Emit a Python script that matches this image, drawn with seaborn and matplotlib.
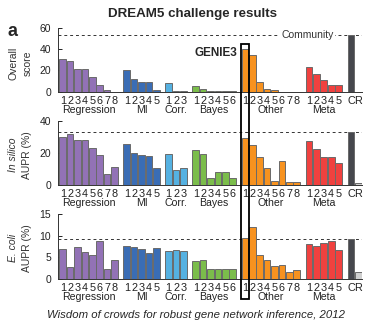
import numpy as np
import pandas as pd
import matplotlib
matplotlib.use('Agg')
import matplotlib.pyplot as plt
from matplotlib.patches import Rectangle
from matplotlib.transforms import blended_transform_factory
import seaborn as sns

# method groups and number of methods in each
groups = ['Regression', 'MI', 'Corr.', 'Bayes', 'Other', 'Meta']
group_sizes = [8, 5, 3, 6, 8, 5]
cr_labels = ['C', 'R']

# values (groups in order, then C and R)
overall = [31, 29, 21.5, 21, 13.5, 6, 1.5, 0,
           20.5, 12, 9.5, 9, 1.5,
           8, 1, 1,
           5, 2.5, 0.3, 0.3, 0.3, 0.3,
           40.5, 34, 9, 2.5, 2, 0, 0, 0,
           23, 17, 11, 6.5, 6.5,
           53, 0]
in_silico = [30, 31.5, 28.2, 28.2, 23, 18.4, 6.8, 11,
             25.7, 20, 18.6, 18.2, 10.6,
             19, 9.3, 10.4,
             21.7, 19.3, 4.1, 7.9, 7.9, 4.1,
             29, 24.6, 17.6, 10.8, 2.7, 14.7, 1.9, 2.1,
             27.5, 22.4, 17.6, 17.4, 13.7,
             32.7, 1.5]
e_coli = [7.0, 2.7, 7.3, 6.2, 5.5, 8.8, 2.3, 4.45,
          7.65, 7.4, 7.0, 5.9, 7.1,
          6.5, 6.6, 6.5,
          4.2, 4.45, 2.2, 2.2, 2.2, 2.2,
          9.45, 12.1, 5.5, 4.45, 3.0, 3.1, 1.6, 1.95,
          8.0, 7.65, 8.35, 8.7, 6.6,
          9.2, 1.6]

colors = {'Regression': '#9272b6', 'MI': '#3a6db5', 'Corr.': '#55b1e1',
          'Bayes': '#7bbd4b', 'Other': '#f7921f', 'Meta': '#f0413f',
          'C': '#46474d', 'R': '#d0d0d0'}

sns.set_style('ticks')
plt.rcParams['font.family'] = ['Liberation Sans', 'DejaVu Sans']

# x layout: one unit per bar, small gap between groups
gap = 0.67
pos, keys, ticklabels, centers = [], [], [], []
x = 0.0
for g, n in zip(groups, group_sizes):
    xs = [x + i for i in range(n)]
    pos += xs
    keys += [g] * n
    ticklabels += [str(i + 1) for i in range(n)]
    centers.append(np.mean(xs))
    x = xs[-1] + 1 + gap
for c in cr_labels:
    pos.append(x)
    keys.append(c)
    ticklabels.append(c)
    x += 1

W, H = 365, 321
fig = plt.figure(figsize=(W / 100, H / 100), dpi=100)

panels = [
    (overall, 60, [0, 20, 40, 60], 27.7, 91.7, ('Overall', 'score'), 'normal', 63),
    (in_silico, 40, [0, 20, 40], 120.7, 185, ('In silico', 'AUPR (%)'), 'italic', 155),
    (e_coli, 15, [0, 5, 10, 15], 214.3, 278.7, ('E. coli', 'AUPR (%)'), 'italic', 248),
]

axes = []
for vals, ymax, yticks, top, bot, ylab, style, ylab_y in panels:
    ax = fig.add_axes([58 / W, 1 - bot / H, 304 / W, (bot - top) / H])
    df = pd.DataFrame({'pos': pos, 'value': vals, 'key': keys})
    sns.barplot(data=df, x='pos', y='value', hue='key', palette=colors, saturation=1,
                native_scale=True, dodge=False, width=0.9, errorbar=None,
                legend=False, edgecolor='#6a6a6a', linewidth=0.7, ax=ax, zorder=2)
    # community performance line
    ax.axhline(vals[-2], ls=(0, (3, 3)), color='#333333', lw=0.7, zorder=1)
    ax.set_xlim(pos[0] - 0.64, pos[-1] + 0.5)
    ax.set_ylim(0, ymax)
    ax.set_yticks(yticks)
    ax.set_xticks(pos, labels=ticklabels)
    ax.set_xlabel('')
    ax.set_ylabel('')
    ax.tick_params(axis='y', direction='in', length=3, width=0.7, labelsize=7.5,
                   pad=5, colors='#222222')
    ax.tick_params(axis='x', length=0, labelsize=7.8, pad=3.2, colors='#222222')
    sns.despine(ax=ax)
    for s in ['left', 'bottom']:
        ax.spines[s].set_linewidth(0.7)
        ax.spines[s].set_color('#333333')
    tr = blended_transform_factory(ax.transData, ax.transAxes)
    for g, cx in zip(groups, centers):
        ax.text(cx, -0.205, g, transform=tr, ha='center', va='top',
                fontsize=7.6, color='#222222')
    fig.text(13.3 / W, 1 - ylab_y / H, ylab[0], rotation=90, ha='center', va='center',
             fontsize=7.5, style=style, color='#333333')
    fig.text(27.3 / W, 1 - ylab_y / H, ylab[1], rotation=90, ha='center', va='center',
             fontsize=7.5, color='#333333')
    axes.append(ax)

ax_top, ax_mid, ax_bot = axes

# "Community" label on the dashed line
ax_top.text(0.82, overall[-2], 'Community', transform=blended_transform_factory(ax_top.transAxes, ax_top.transData),
            ha='center', va='center', fontsize=7.5, color='#333333',
            bbox=dict(facecolor='white', edgecolor='none', pad=1.0), zorder=3)

# box around GENIE3 (first "Other" method) across all panels
genie_x = pos[sum(group_sizes[:4])]
inv = fig.transFigure.inverted()
x0, y_top = inv.transform(ax_top.transData.transform((genie_x - 0.54, 44.5)))
x1, _ = inv.transform(ax_top.transData.transform((genie_x + 0.54, 44.5)))
_, y_bot = inv.transform(ax_bot.transAxes.transform((0, -0.315)))
fig.patches.append(Rectangle((x0, y_bot), x1 - x0, y_top - y_bot, transform=fig.transFigure,
                             fill=False, edgecolor='black', lw=1.3, zorder=10))
fig.text(x0 - 3.5 / W, y_top - 3 / H, 'GENIE3', ha='right', va='top',
         fontsize=8.5, fontweight='bold')

fig.text(0.527, 1 - 14 / H, 'DREAM5 challenge results', ha='center', va='center',
         fontsize=9.6, fontweight='bold')
fig.text(12.5 / W, 1 - 31 / H, 'a', ha='center', va='center', fontsize=13, fontweight='bold')
fig.text(0.538, 1 - 314.5 / H, 'Wisdom of crowds for robust gene network inference, 2012',
         ha='center', va='center', fontsize=8.2, style='italic')

fig.savefig('out.png', dpi=100)
